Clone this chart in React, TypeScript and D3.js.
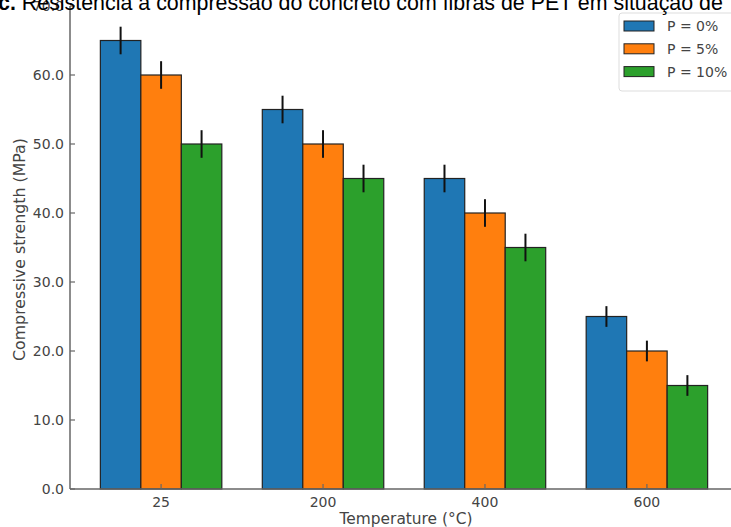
import React from "react";
import * as d3 from "d3";

const categories = ["25", "200", "400", "600"];
const seriesNames = ["P = 0%", "P = 5%", "P = 10%"];
const seriesColors = ["#1f77b4", "#ff7f0e", "#2ca02c"];
const values0 = [65, 55, 45, 25];
const values5 = [60, 50, 40, 20];
const values10 = [50, 45, 35, 15];
const errors0 = [2, 2, 2, 1.5];
const errors5 = [2, 2, 2, 1.5];
const errors10 = [2, 2, 2, 1.5];
const yTicks = [0, 10, 20, 30, 40, 50, 60, 70];

const W = 731;
const H = 527;

export default function App() {
  const series = [values0, values5, values10];
  const errs = [errors0, errors5, errors10];
  const barW = 0.25;
  const x = d3.scaleLinear().domain([-0.5625, 3.5625]).range([70, 738]);
  const y = d3.scaleLinear().domain([0, 70]).range([489, 6]);
  const font = "'DejaVu Sans', sans-serif";
  const tickColor = "#444";
  const axisColor = "#666";

  return (
    <svg width={W} height={H} style={{ position: "absolute", left: 0, top: 0, background: "#fff" }}>
      <rect x={0} y={0} width={W} height={H} fill="#fff" />
      {/* bars */}
      {series.map((vals, si) =>
        vals.map((v, ci) => {
          const cx = ci + (si - 1) * barW;
          const x0 = x(cx - barW / 2);
          const x1 = x(cx + barW / 2);
          return (
            <rect
              key={`b${si}-${ci}`}
              x={x0}
              y={y(v)}
              width={x1 - x0}
              height={y(0) - y(v)}
              fill={seriesColors[si]}
              stroke="#222"
              strokeWidth={1.2}
            />
          );
        })
      )}
      {/* error bars */}
      {series.map((vals, si) =>
        vals.map((v, ci) => {
          const cx = x(ci + (si - 1) * barW);
          return (
            <line
              key={`e${si}-${ci}`}
              x1={cx}
              x2={cx}
              y1={y(v - errs[si][ci])}
              y2={y(v + errs[si][ci])}
              stroke="#111"
              strokeWidth={2}
            />
          );
        })
      )}
      {/* axes */}
      <line x1={70} x2={W} y1={y(0)} y2={y(0)} stroke={axisColor} strokeWidth={1.5} />
      <line x1={70} x2={70} y1={y(70)} y2={y(0)} stroke={axisColor} strokeWidth={1.5} />
      {yTicks.map((t) => (
        <g key={`yt${t}`}>
          <line x1={70} x2={75} y1={y(t)} y2={y(t)} stroke={axisColor} strokeWidth={1.2} />
          <text x={64} y={y(t)} dy="0.36em" textAnchor="end" fontFamily={font} fontSize={14} fill={tickColor}>
            {t.toFixed(1)}
          </text>
        </g>
      ))}
      {categories.map((c, i) => (
        <g key={`xt${c}`}>
          <line x1={x(i)} x2={x(i)} y1={y(0)} y2={y(0) - 5} stroke={axisColor} strokeWidth={1.2} />
          <text x={x(i)} y={507} textAnchor="middle" fontFamily={font} fontSize={14} fill={tickColor}>
            {c}
          </text>
        </g>
      ))}
      <text x={406} y={524} textAnchor="middle" fontFamily={font} fontSize={15.4} fill={tickColor}>
        Temperature (°C)
      </text>
      <text
        transform={`translate(25, ${(y(0) + y(70)) / 2 + 2}) rotate(-90)`}
        textAnchor="middle"
        fontFamily={font}
        fontSize={15.8}
        fill={tickColor}
      >
        Compressive strength (MPa)
      </text>
      {/* legend */}
      <rect x={619} y={13} width={130} height={78} rx={3} fill="#fff" stroke="#ddd" strokeWidth={1} />
      {seriesNames.map((n, i) => (
        <g key={`lg${i}`}>
          <rect x={624} y={21 + i * 22.8} width={30} height={10} fill={seriesColors[i]} stroke="#222" strokeWidth={1} />
          <text x={667} y={26 + i * 22.8} dy="0.36em" fontFamily={font} fontSize={14} fill={tickColor}>
            {n}
          </text>
        </g>
      ))}
      {/* title (cropped at top) */}
      <text x={-2} y={10} fontFamily="'Liberation Sans', Arial, sans-serif" fontSize={21.4} fill="#000">
        <tspan fontWeight="bold">c.</tspan>
        <tspan> Resistência à compressão do concreto com fibras de PET em situação de</tspan>
      </text>
    </svg>
  );
}
